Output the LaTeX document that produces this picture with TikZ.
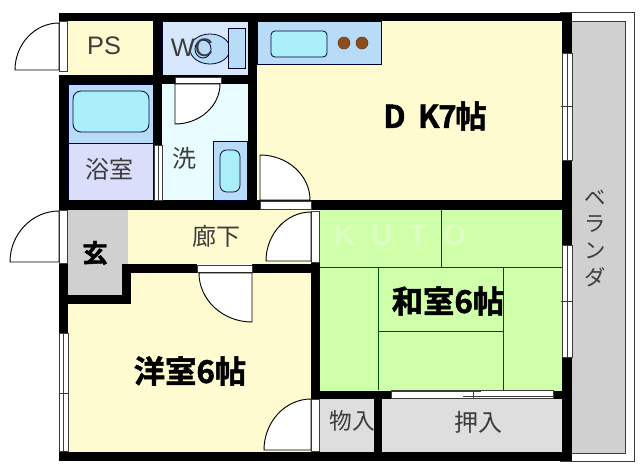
\documentclass[tikz,border=0pt]{standalone}
\usepackage{fontspec}
\usepackage{xcolor}
\newfontfamily\jpfont{Noto Sans CJK JP}[BoldFont={Noto Sans CJK JP Bold},BoldFeatures={FakeBold=1.5}]
\setsansfont{Liberation Sans}
\definecolor{cream}{RGB}{255,251,208}
\definecolor{tatami}{RGB}{208,255,170}
\definecolor{counter}{RGB}{184,220,248}
\definecolor{basin}{RGB}{170,238,250}
\definecolor{bathroom}{RGB}{218,222,250}
\definecolor{toilet}{RGB}{216,232,252}
\definecolor{washroom}{RGB}{232,252,255}
\definecolor{entry}{RGB}{208,208,208}
\definecolor{closet}{RGB}{222,222,222}
\definecolor{burner}{RGB}{140,76,30}
\definecolor{plan}{RGB}{60,60,60}
\tikzset{
	room/.style={font=\jpfont\fontsize{18}{18}\selectfont,text=plan,inner sep=0pt},
	latinroom/.style={font=\sffamily\fontsize{19}{19}\selectfont,text=plan,inner sep=0pt},
	bigroom/.style={font=\jpfont\bfseries\fontsize{23.5}{23.5}\selectfont,text=black,inner sep=0pt},
	fixture/.style={draw=black!80!blue,line width=0.6pt},
	doorleaf/.style={draw=black,fill=white,line width=0.7pt},
	glass/.style={draw=plan,fill=white,line width=0.5pt},
	mat/.style={draw=black!70!green,line width=0.6pt}
}
\begin{document}
\begin{tikzpicture}[x=0.75pt,y=-0.75pt]
	\useasboundingbox (0,0) rectangle (640,472);

	\draw[plan,fill=white,line width=0.7pt] (560,12) rectangle (634,461);
	\draw[plan,fill=entry,line width=0.7pt] (565,21) rectangle (625,453);

	\fill[cream] (257,21) rectangle (562,200);
	\fill[cream] (68,21) rectangle (153,75);
	\fill[cream] (128,210) rectangle (312,264);
	\fill[cream] (131,270) -- (311,270) -- (311,452) -- (68,452) -- (68,304) -- (131,304) -- cycle;
	\fill[tatami] (320,210) rectangle (562,391);
	\fill[entry] (68,210) rectangle (128,295);
	\fill[washroom] (162,84) rectangle (248,200);
	\draw[fixture,fill=toilet] (162,21) rectangle (248,75);
	\draw[fixture,fill=counter] (68,84) rectangle (153,143);
	\draw[fixture,fill=bathroom] (68,143) rectangle (153,200);
	\fill[closet] (320,399) rectangle (374,452);
	\fill[closet] (382,399) rectangle (562,452);

	\foreach \Xa/\Ya/\Xb/\Yb in
	{59/13/572/21,59/75/248/84,153/21/162/84,248/13/257/210,59/75/68/84,
	59/200/311/210,311/200/572/210,153/84/162/145,562/13/572/53,562/160/572/245,
	562/357/572/461,59/452/572/461,59/264/68/333,122/264/197/273,252/264/320/273,
	122/264/131/304,59/295/131/304,59/84/68/210,311/263/320/399,311/391/391/399,
	553/391/572/399,374/391/382/461}
		\fill[black] (\Xa,\Ya) rectangle (\Xb,\Yb);

	\foreach \Xa/\Ya/\Xb/\Yb in
	{175/77/221/83,260/201/311/209,197/265/252/272}
		\draw[glass] (\Xa,\Ya) rectangle (\Xb,\Yb);

	\foreach \Xa/\Ya/\Xb/\Yb in
	{59/21/67/71,59/210/67/263,311/211/319/262,311/399/319/451}
		\draw[glass] (\Xa,\Ya) rectangle (\Xb,\Yb);

	\foreach \Xa/\Ya/\Xb/\Yb in
	{562/53/572/160,562/245/572/357,59/333/68/451,154/145/162/200}{
		\draw[glass] (\Xa,\Ya) rectangle (\Xb,\Yb);
		\draw[plan,line width=0.5pt] ({(\Xa+\Xb)/2},\Ya) -- ({(\Xa+\Xb)/2},\Yb);
	}
	\foreach \Xa/\Xb/\Ym in {561/573/106,561/573/301,59/69/393}
		\draw[plan,line width=0.5pt] (\Xa,\Ym) -- (\Xb,\Ym);

	\draw[glass] (391,390) rectangle (553,398);
	\draw[plan,line width=0.6pt] (391,391) -- (481,391);
	\draw[plan,line width=0.6pt] (463,396) -- (553,396);
	\draw[plan,line width=0.6pt] (473,390) -- (473,398);

	\foreach \Hx/\Hy/\Ax/\Ay/\Bx/\By in
	{59/70/15/70/59/23,59/262/10/262/59/211,175/84/175/124/220/84,
	260/200/260/155/310/200,311/261/266/261/311/212,252/273/252/322/199/273,
	311/450/264/450/311/399}{
		\pgfmathsetmacro{\Cax}{\Ax+0.55*(\Bx-\Hx)}
		\pgfmathsetmacro{\Cay}{\Ay+0.55*(\By-\Hy)}
		\pgfmathsetmacro{\Cbx}{\Bx+0.55*(\Ax-\Hx)}
		\pgfmathsetmacro{\Cby}{\By+0.55*(\Ay-\Hy)}
		\draw[doorleaf] (\Bx,\By) -- (\Hx,\Hy) -- (\Ax,\Ay)
			.. controls (\Cax,\Cay) and (\Cbx,\Cby) .. (\Bx,\By);
	}

	\draw[fixture,fill=counter] (257,21) rectangle (381,64);
	\draw[fixture,fill=basin,rounded corners=3pt] (271,31) rectangle (327,57);
	\foreach \Pos in {344,362}
		\draw[burner!70!black,fill=burner] (\Pos,43) circle (6);

	\draw[fixture,fill=basin,rounded corners=6pt] (73,91) rectangle (149,132);
	\draw[fixture,fill=counter] (213,141) rectangle (247,200);
	\draw[fixture,fill=basin,rounded corners=5pt] (220,150) rectangle (240,192);
	\draw[fixture,fill=counter] (210,49) ellipse (20 and 15);
	\draw[fixture,fill=counter] (228,28) rectangle (245,68);
	\draw[fixture] (203,49) ellipse (8 and 9);

	\foreach \Xa/\Ya/\Xb/\Yb in
	{320/267/562/267,441/210/441/267,378/267/378/390,503/267/503/390,378/331/503/331}
		\draw[mat] (\Xa,\Ya) -- (\Xb,\Yb);

	\node[font=\sffamily\bfseries\fontsize{22}{22}\selectfont,text=white,opacity=0.28] (mark) at (400,235) {K\ \ U\ \ T\ \ O};

	\node[latinroom] (ps) at (104,46) {PS};
	\node[latinroom] (wc) at (192,48) {WC};
	\node[room] (bath) at (109,169) {浴室};
	\node[room] (wash) at (184,158) {洗};
	\node[room] (hall) at (216,236) {廊下};
	\node[room,text=black,font=\jpfont\bfseries\fontsize{19}{19}\selectfont] (genkan) at (95,253) {玄};
	\node[room,font=\jpfont\fontsize{17}{17}\selectfont] (mono) at (352,421) {物入};
	\node[room] (oshi) at (478,422) {押入};
	\node[room,align=center,font=\jpfont\fontsize{16}{20}\selectfont] (veranda) at (595,238) {ベ\\ラ\\ン\\ダ};

	\node[bigroom] (dk) at (435,116) {D\ \,K\kern-1pt 7\kern-1pt 帖};
	\node[bigroom] (washitsu) at (448,301) {和室6帖};
	\node[bigroom] (youshitsu) at (190,371) {洋室6帖};
\end{tikzpicture}
\end{document}
